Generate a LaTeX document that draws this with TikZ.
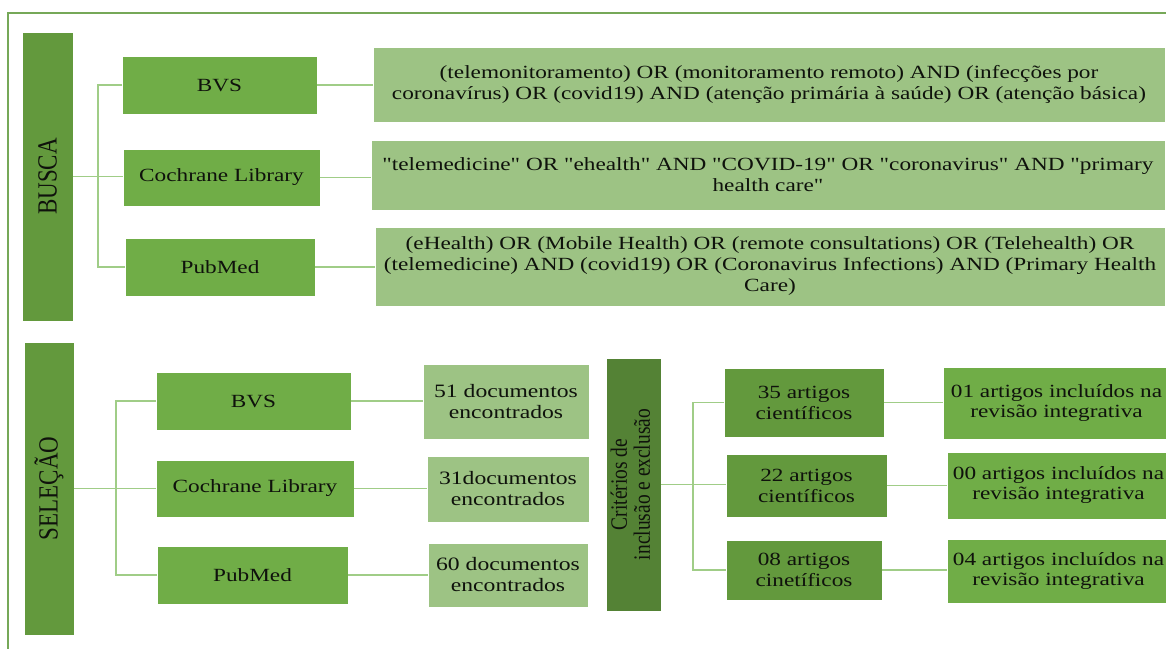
\documentclass[tikz,border=0pt]{standalone}
\usepackage{fontspec}
\usepackage{tikz}
\setmainfont{Liberation Serif}
\newfontfamily\widefont[FakeStretch=1.25]{Liberation Serif}
\newfontfamily\tallfont[FakeStretch=0.83]{Liberation Serif}
\definecolor{frameg}{RGB}{118, 168, 88}
\definecolor{barg}{RGB}{99, 153, 61}
\definecolor{boxg}{RGB}{112, 173, 71}
\definecolor{lightg}{RGB}{157, 195, 132}
\definecolor{darkg}{RGB}{84, 130, 53}
\definecolor{lineg}{RGB}{160, 205, 135}
\definecolor{inkg}{RGB}{15, 18, 12}

\begin{document}
\begin{tikzpicture}[x=1pt, y=-1pt,
  base/.style={rectangle, inner sep=0pt, outer sep=0pt, draw=white, line width=0.8pt, text=inkg, align=center},
  bar/.style={base, fill=barg, font=\tallfont\fontsize{27.7}{30}\selectfont},
  src/.style={base, fill=boxg, font=\widefont\fontsize{18.6}{21}\selectfont},
  qry/.style={base, fill=lightg, font=\widefont\fontsize{18.6}{21}\selectfont},
  docbox/.style={base, fill=lightg, font=\widefont\fontsize{18.9}{21}\selectfont},
  crit/.style={base, fill=darkg, font=\tallfont\fontsize{23.4}{22}\selectfont},
  artbox/.style={base, fill=barg, font=\widefont\fontsize{18.6}{21}\selectfont},
  incbox/.style={base, fill=boxg, font=\widefont\fontsize{18.6}{20}\selectfont},
  link/.style={draw=lineg, line width=1.6pt}
]
\useasboundingbox (0,0) rectangle (1166,648);
\clip (0,0) rectangle (1166,648);
\draw[frameg, line width=1.4pt] (8,13) rectangle (1180,660);

% BUSCA
\node[bar, minimum width=51, minimum height=289] (busca) at (47.5,176.5) {\rotatebox{90}{BUSCA}};
\node[src, minimum width=195, minimum height=58] (bvsA) at (219.5,85) {BVS};
\node[src, minimum width=197, minimum height=57] (cochA) at (221.5,177.5) {Cochrane Library};
\node[src, minimum width=190, minimum height=58] (pubA) at (220,267) {PubMed};
\node[qry, minimum width=792, minimum height=75] (qbvs) at (769,84.5)
  {(telemonitoramento) OR (monitoramento remoto) AND (infecções por\\
   coronavírus) OR (covid19) AND (atenção primária à saúde) OR (atenção básica)};
\node[qry, minimum width=794, minimum height=70] (qcoch) at (768,175)
  {"telemedicine" OR "ehealth" AND "COVID-19" OR "coronavirus" AND "primary\\
   health care"};
\node[qry, minimum width=790, minimum height=79] (qpub) at (770,266.5)
  {(eHealth) OR (Mobile Health) OR (remote consultations) OR (Telehealth) OR\\
   (telemedicine) AND (covid19) OR (Coronavirus Infections) AND (Primary Health\\
   Care)};

% SELECAO
\node[bar, minimum width=50, minimum height=293] (sel) at (49,488.5) {\rotatebox{90}{SELEÇÃO}};
\node[src, minimum width=195, minimum height=58] (bvsB) at (253.5,401) {BVS};
\node[src, minimum width=198, minimum height=57] (cochB) at (255,488.5) {Cochrane Library};
\node[src, minimum width=191, minimum height=58] (pubB) at (252.5,575) {PubMed};
\node[docbox, minimum width=166, minimum height=75] (d51) at (506,401.5) {51 documentos\\encontrados};
\node[docbox, minimum width=162, minimum height=66] (d31) at (508,489) {31documentos\\encontrados};
\node[docbox, minimum width=160, minimum height=64] (d60) at (508,575) {60 documentos\\encontrados};
\node[crit, minimum width=55, minimum height=253] (crit) at (633.5,484.5)
  {\rotatebox{90}{\begin{tabular}{@{}c@{}}Critérios de\\inclusão e exclusão\end{tabular}}};
\node[artbox, minimum width=160, minimum height=69] (a35) at (804,402.5) {35 artigos\\científicos};
\node[artbox, minimum width=161, minimum height=63] (a22) at (806.5,485.5) {22 artigos\\científicos};
\node[artbox, minimum width=156, minimum height=60] (a08) at (804,570) {08 artigos\\cinetíficos};
\node[incbox, minimum width=227, minimum height=72] (i01) at (1056.5,403) {01 artigos incluídos na\\revisão integrativa};
\node[incbox, minimum width=223, minimum height=67] (i00) at (1058.5,485.5) {00 artigos incluídos na\\revisão integrativa};
\node[incbox, minimum width=223, minimum height=64] (i04) at (1058.5,571) {04 artigos incluídos na\\revisão integrativa};

% tree joints
\coordinate (jA) at (98,0);
\coordinate (jB) at (116,0);
\coordinate (jC) at (693,0);

\draw[link] (busca.east) -- (busca.east -| cochA.west);
\draw[link] (bvsA.west) -| (jA |- pubA.west) -- (pubA.west);
\draw[link] (sel.east) -- (sel.east -| cochB.west);
\draw[link] (bvsB.west) -| (jB |- pubB.west) -- (pubB.west);
\draw[link] (crit.east) -- (crit.east -| a22.west);
\draw[link] (a35.west) -| (jC |- a08.west) -- (a08.west);

\foreach \a/\b in {bvsA/qbvs, cochA/qcoch, pubA/qpub, bvsB/d51, cochB/d31, pubB/d60, a35/i01, a22/i00, a08/i04}
  \draw[link] (\a.east) -- (\a.east -| \b.west);
\end{tikzpicture}
\end{document}
